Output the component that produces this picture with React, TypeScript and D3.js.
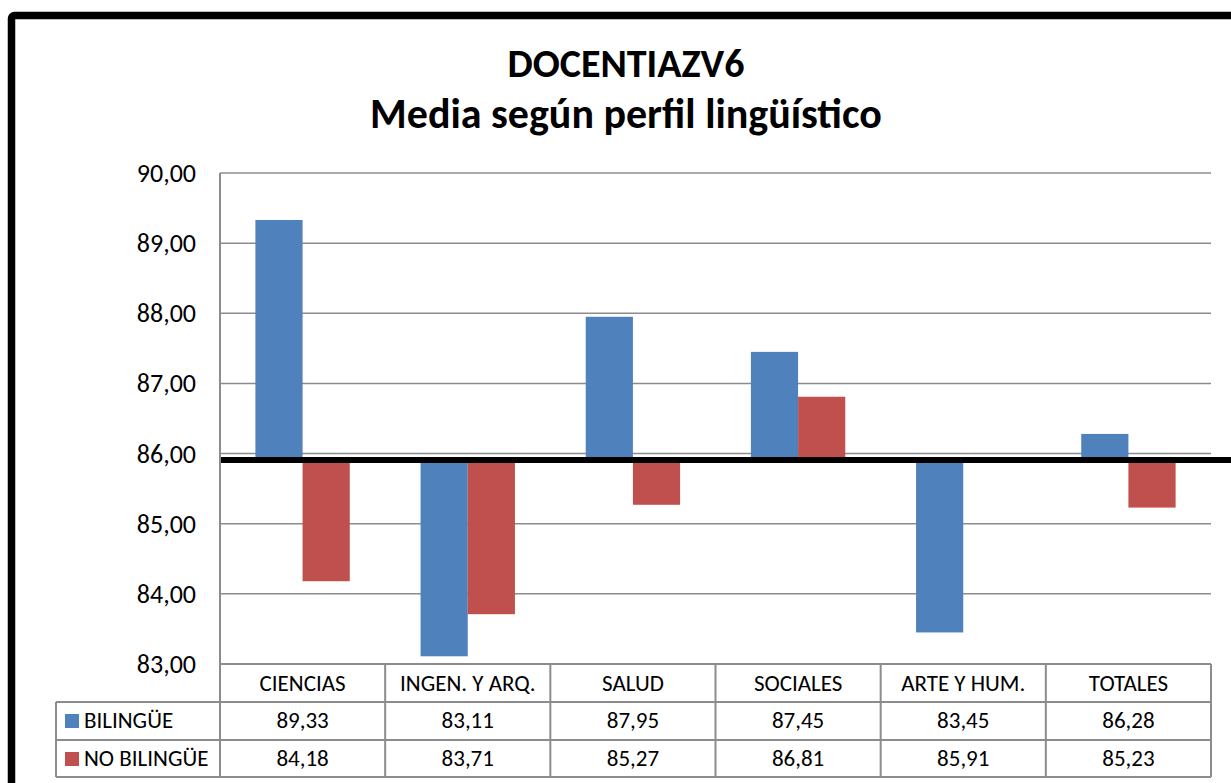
import React from 'react';
import * as d3 from 'd3';

const W = 1231;
const H = 783;

const categories = ['CIENCIAS', 'INGEN. Y ARQ.', 'SALUD', 'SOCIALES', 'ARTE Y HUM.', 'TOTALES'];
const seriesNames = ['BILINGÜE', 'NO BILINGÜE'];
const bilingue = [89.33, 83.11, 87.95, 87.45, 83.45, 86.28];
const noBilingue = [84.18, 83.71, 85.27, 86.81, 85.91, 85.23];
const baselineValue = 85.91;
const yTicks = [83, 84, 85, 86, 87, 88, 89, 90];
const titleLines = ['DOCENTIAZV6', 'Media según perfil lingüístico'];
const colors = ['#4F81BD', '#C0504D'];

const plot = { left: 220, right: 1211, top: 173, bottom: 664 };
const rowH = [38, 38, 37];
const legendLeft = 56;
const font = 'Carlito, Lato, "Open Sans", sans-serif';
const gridColor = '#8c8c8c';

const fmt = (v: number) => v.toFixed(2).replace('.', ',');

export default function App() {
  const y = d3.scaleLinear().domain([83, 90]).range([plot.bottom, plot.top]);
  const x0 = d3.scaleBand<string>().domain(categories).range([plot.left, plot.right]);
  const x1 = d3
    .scaleBand<string>()
    .domain(seriesNames)
    .range([0, x0.bandwidth()])
    .paddingOuter(0.75)
    .paddingInner(0);
  const values = [bilingue, noBilingue];
  const yBase = y(baselineValue);

  const row1Top = plot.bottom + rowH[0];
  const row2Top = row1Top + rowH[1];
  const tableBottom = row2Top + rowH[2];

  return (
    <svg
      width={W}
      height={H}
      style={{ position: 'absolute', left: 0, top: 0, background: '#fff' }}
    >
      <rect x={11.5} y={15.5} width={1400} height={900} rx={3} fill="#fff" stroke="#000" strokeWidth={7.5} />

      <text x={626} y={77} textAnchor="middle" fontFamily={font} fontWeight="bold" fontSize={40} fill="#000">
        {titleLines[0]}
      </text>
      <text x={626} y={128} textAnchor="middle" fontFamily={font} fontWeight="bold" fontSize={42} fill="#000">
        {titleLines[1]}
      </text>

      {/* gridlines */}
      {yTicks.map((t) => (
        <line key={t} x1={plot.left} x2={plot.right} y1={y(t)} y2={y(t)} stroke={gridColor} strokeWidth={1.5} />
      ))}
      {yTicks.map((t) => (
        <text key={'l' + t} x={196} y={y(t) + 9} textAnchor="end" fontFamily={font} fontSize={26} fill="#000">
          {fmt(t)}
        </text>
      ))}

      {/* bars from the baseline */}
      {values.map((vals, si) =>
        vals.map((v, ci) => {
          const bx = (x0(categories[ci]) as number) + (x1(seriesNames[si]) as number);
          const top = Math.min(y(v), yBase);
          const h = Math.abs(y(v) - yBase);
          return <rect key={si + '-' + ci} x={bx} y={top} width={x1.bandwidth()} height={h} fill={colors[si]} />;
        })
      )}

      <line x1={plot.left} x2={W} y1={yBase} y2={yBase} stroke="#000" strokeWidth={6} />

      {/* data table */}
      <g stroke={gridColor} strokeWidth={2} fill="none">
        <line x1={plot.left} x2={plot.left} y1={plot.top} y2={tableBottom} />
        <line x1={plot.left} x2={plot.right} y1={plot.bottom} y2={plot.bottom} />
        <line x1={legendLeft} x2={plot.right} y1={row1Top} y2={row1Top} />
        <line x1={legendLeft} x2={plot.right} y1={row2Top} y2={row2Top} />
        <line x1={legendLeft} x2={plot.right} y1={tableBottom} y2={tableBottom} />
        <line x1={legendLeft} x2={legendLeft} y1={row1Top} y2={tableBottom} />
        {categories.map((c) => (
          <line
            key={c}
            x1={(x0(c) as number) + x0.bandwidth()}
            x2={(x0(c) as number) + x0.bandwidth()}
            y1={plot.bottom}
            y2={tableBottom}
          />
        ))}
      </g>
      {categories.map((c) => (
        <text
          key={'c' + c}
          x={(x0(c) as number) + x0.bandwidth() / 2}
          y={plot.bottom + 27}
          textAnchor="middle"
          fontFamily={font}
          fontSize={23}
          fill="#000"
        >
          {c}
        </text>
      ))}
      {values.map((vals, si) => {
        const rowTop = si === 0 ? row1Top : row2Top;
        return (
          <g key={'r' + si}>
            <rect x={legendLeft + 9} y={rowTop + 12} width={14} height={14} fill={colors[si]} />
            <text x={legendLeft + 28} y={rowTop + 26} fontFamily={font} fontSize={23} fill="#000">
              {seriesNames[si]}
            </text>
            {vals.map((v, ci) => (
              <text
                key={ci}
                x={(x0(categories[ci]) as number) + x0.bandwidth() / 2}
                y={rowTop + 26}
                textAnchor="middle"
                fontFamily={font}
                fontSize={23}
                fill="#000"
              >
                {fmt(v)}
              </text>
            ))}
          </g>
        );
      })}
    </svg>
  );
}
